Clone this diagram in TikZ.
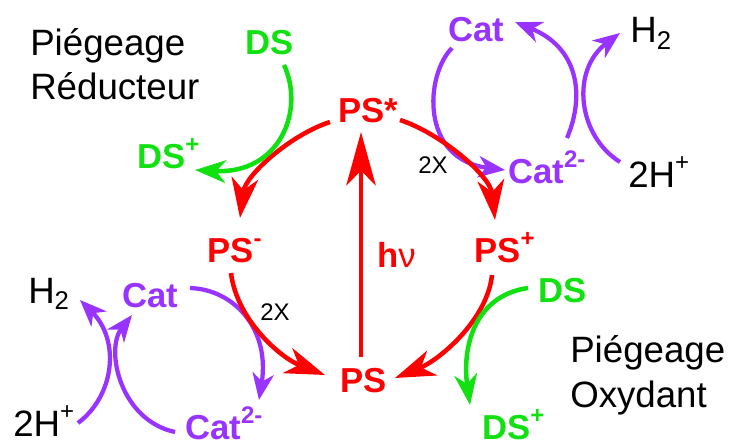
\documentclass[tikz,border=0pt]{standalone}
\usepackage{fontspec}
\setmainfont{Liberation Sans}
\usepackage{xcolor}
\usetikzlibrary{arrows.meta,calc}
\definecolor{psred}{HTML}{FF0000}
\definecolor{dsgreen}{HTML}{11E011}
\definecolor{catpurple}{HTML}{9933FF}
\newcommand{\charge}[1]{\raisebox{0.45em}{\fontsize{18}{18}\selectfont #1}}
\tikzset{
  lbl/.style={anchor=base west,inner sep=0pt,
              font=\fontsize{26}{30}\selectfont\bfseries},
  pslbl/.style={lbl,text=psred},
  dslbl/.style={lbl,text=dsgreen},
  catlbl/.style={lbl,text=catpurple},
  plain/.style={anchor=base west,inner sep=0pt,
                font=\fontsize{27.5}{33.5}\selectfont},
  note/.style={plain,align=left},
  tiny/.style={anchor=base west,inner sep=0pt,
               font=\fontsize{18}{20}\selectfont},
  redarr/.style={-{Stealth[length=30pt,width=20pt,inset=9pt]},
                 line width=3.4pt,draw=psred},
  bigarr/.style={-{Stealth[length=40pt,width=22pt,inset=11pt]},
                 line width=3.4pt,draw=psred},
  dsarr/.style={-{Stealth[length=23pt,width=17pt,inset=7pt]},
                line width=3.4pt,draw=dsgreen},
  catarr/.style={-{Stealth[length=20pt,width=16pt,inset=6pt]},
                 line width=3.2pt,draw=catpurple}
}
\begin{document}
\begin{tikzpicture}[x=0.75pt,y=0.75pt]
  \useasboundingbox (0,0) rectangle (731,-442);
  % photosensitiser states
  \node[pslbl] (psStar) at (338,-123) {PS*};
  \node[pslbl] (psMinus) at (207,-262) {PS\charge{-}};
  \node[pslbl] (psPlus) at (474,-262) {PS\charge{+}};
  \node[pslbl] (ps) at (340,-392) {PS};
  \node[pslbl] (hv) at (377,-267) {h{\mdseries ν}};
  % sacrificial donor
  \node[dslbl] (dsA) at (245,-55) {DS};
  \node[dslbl] (dsAp) at (137,-168) {DS\charge{+}};
  \node[dslbl] (dsB) at (538,-302) {DS};
  \node[dslbl] (dsBp) at (482,-439) {DS\charge{+}};
  % catalyst, top right
  \node[catlbl] (catA) at (448,-42) {Cat};
  \node[catlbl] (catA2) at (508,-183) {Cat\charge{2-}};
  \node[plain] (h2A) at (630,-43) {H\textsubscript{2}};
  \node[plain] (hpA) at (628,-187) {2H\charge{+}};
  % catalyst, bottom left
  \node[catlbl] (catB) at (122,-307) {Cat};
  \node[catlbl] (catB2) at (185,-439) {Cat\charge{2-}};
  \node[plain] (h2B) at (28,-303) {H\textsubscript{2}};
  \node[plain] (hpB) at (13,-436) {2H\charge{+}};
  % notes
  \node[tiny] (xA) at (418,-173) {2X};
  \node[tiny] (xB) at (260,-320) {2X};
  \node[note] (redTitle) at (30,-100) {Piégeage\\Réducteur};
  \node[note] (oxTitle) at (570,-407) {Piégeage\\Oxydant};

  % catalyst cycles
  \draw[catarr] ($(catA.base west)+(4,-6)$) .. controls +(-135:38) and +(173:86) .. ($(catA2.base west)+(-3,13)$);
  \draw[catarr] ($(catA2.base west)+(59,45)$) .. controls +(67:47) and +(-22:68) .. ($(catA.base west)+(67,20)$);
  \draw[catarr] ($(hpA.base west)+(-8,25)$) .. controls +(148:50) and +(-143:62) .. ($(h2A.base west)+(-10,10)$);
  \draw[catarr] ($(catB.base west)+(68,19)$) .. controls +(-2:45) and +(81:71) .. ($(catB2.base west)+(74,39)$);
  \draw[catarr] ($(catB2.base west)+(-10,7)$) .. controls +(168:56) and +(-128:44) .. ($(catB.base west)+(10,-8)$);
  \draw[catarr] ($(hpB.base west)+(65,13)$) .. controls +(37:46) and +(-45:57) .. ($(h2B.base west)+(52,3)$);

  % photosensitiser cycle
  \draw[redarr] ($(psStar.base west)+(-8,1)$) .. controls +(-162:42) and +(83:43) .. ($(psMinus.base west)+(33,44)$);
  \draw[redarr] ($(psStar.base west)+(62,3)$) .. controls +(-18:42) and +(96:45) .. ($(psPlus.base west)+(21,42)$);
  \draw[redarr] ($(psMinus.base west)+(24,-11)$) .. controls +(-83:47) and +(159:48) .. ($(ps.base west)+(-15,17)$);
  \draw[redarr] ($(psPlus.base west)+(18,-13)$) .. controls +(-96:45) and +(22:48) .. ($(ps.base west)+(55,14)$);
  \draw[bigarr] ($(ps.base west)+(21,35)$) -- ($(psStar.base west)+(23,-9)$);

  % donors
  \draw[dsarr] ($(dsA.base west)+(39,-10)$) .. controls +(-65:50) and +(-3:85) .. ($(dsAp.base west)+(58,-2)$);
  \draw[dsarr] ($(dsB.base west)+(-10,14)$) .. controls +(-172:53) and +(98:60) .. ($(dsBp.base west)+(-12,34)$);
\end{tikzpicture}
\end{document}
